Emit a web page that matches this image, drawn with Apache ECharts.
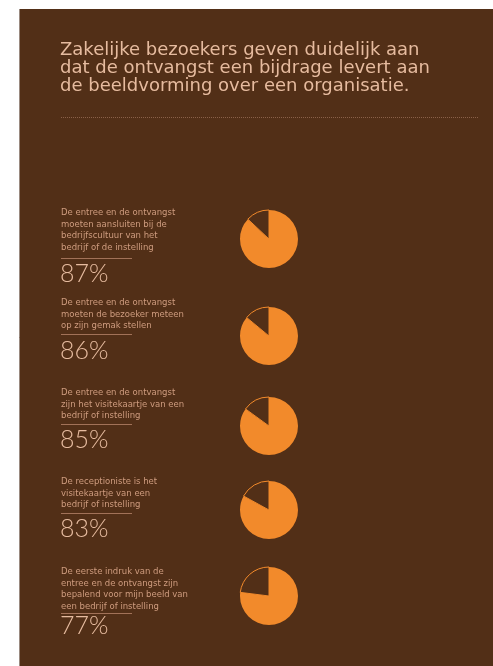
<!DOCTYPE html>
<html><head><meta charset="utf-8">
<script src="https://cdn.jsdelivr.net/npm/echarts@6/dist/echarts.min.js"></script>
<style>html,body{margin:0;padding:0;background:#fff}#c{width:493px;height:666px}</style>
</head><body><div id="c"></div>
<script>
const titleLines = [
  "Zakelijke bezoekers geven duidelijk aan",
  "dat de ontvangst een bijdrage levert aan",
  "de beeldvorming over een organisatie."
];
const labels = [
  "De entree en de ontvangst\nmoeten aansluiten bij de\nbedrijfscultuur van het\nbedrijf of de instelling",
  "De entree en de ontvangst\nmoeten de bezoeker meteen\nop zijn gemak stellen",
  "De entree en de ontvangst\nzijn het visitekaartje van een\nbedrijf of instelling",
  "De receptioniste is het\nvisitekaartje van een\nbedrijf of instelling",
  "De eerste indruk van de\nentree en de ontvangst zijn\nbepalend voor mijn beeld van\neen bedrijf of instelling"
];
const values = [87, 86, 85, 83, 77];
const pctLabels = ["87%", "86%", "85%", "83%", "77%"];

// layout
const labelTop = [207, 297, 387, 476, 566];
const underlineY = [258, 334, 424, 513, 613];
const pctTop = [261, 338, 427, 516, 613];
const pieY = [239, 336, 426, 510, 596];
const BG = '#522f17', ORANGE = '#f28a2b', PEACH = '#e6bb9f', LABEL = '#cf9c7f';

const chart = echarts.init(document.getElementById('c'), null, {renderer: 'canvas'});
const graphics = [
  {type: 'rect', shape: {x: 19, y: 9, width: 474, height: 657}, style: {fill: BG}, z: -10},
  {type: 'line', shape: {x1: 19.5, y1: 9, x2: 19.5, y2: 666}, style: {stroke: '#9a8a80', lineWidth: 1}, z: -9},
  {type: 'text', left: 60, top: 41, style: {text: titleLines.join('\n'), fill: PEACH, font: '18px "DejaVu Sans", sans-serif', lineHeight: 18}},
  {type: 'line', shape: {x1: 61, y1: 117.5, x2: 478, y2: 117.5}, style: {stroke: '#8a6048', lineWidth: 1, lineDash: [1, 1]}}
];
labels.forEach((t, i) => {
  graphics.push({type: 'text', left: 61, top: labelTop[i], style: {text: t, fill: LABEL, font: '8.5px "DejaVu Sans", sans-serif', lineHeight: 11.7}});
  graphics.push({type: 'line', shape: {x1: 61, y1: underlineY[i] + 0.5, x2: 132, y2: underlineY[i] + 0.5}, style: {stroke: '#a27258', lineWidth: 1}});
  graphics.push({type: 'text', left: 60, top: pctTop[i], style: {text: pctLabels[i], fill: PEACH, font: '300 25px Lato, "Open Sans", sans-serif'}});
});

const series = values.map((v, i) => ({
  type: 'pie',
  center: [269, pieY[i]],
  radius: 29,
  startAngle: 90,
  clockwise: true,
  silent: true,
  label: {show: false},
  labelLine: {show: false},
  data: [
    {value: v, itemStyle: {color: ORANGE, borderColor: ORANGE, borderWidth: 0}},
    {value: 100 - v, itemStyle: {color: BG, borderColor: ORANGE, borderWidth: 1}}
  ]
}));

chart.setOption({
  animation: false,
  backgroundColor: '#ffffff',
  graphic: graphics,
  series: series
});
</script>
</body></html>
